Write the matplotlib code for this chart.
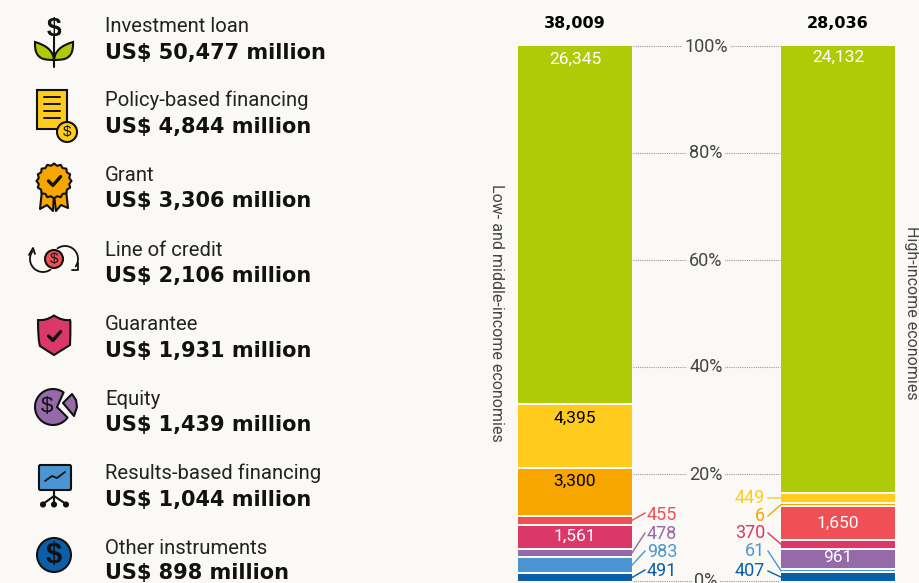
import numpy as np
import matplotlib
matplotlib.use("Agg")
import matplotlib.pyplot as plt
from matplotlib.patches import Rectangle, Circle, Polygon, PathPatch, FancyBboxPatch
from matplotlib.path import Path

instruments = ["Investment loan", "Policy-based financing", "Grant", "Line of credit",
               "Guarantee", "Equity", "Results-based financing", "Other instruments"]
totals_all = [50477, 4844, 3306, 2106, 1931, 1439, 1044, 898]
low_middle = [26345, 4395, 3300, 455, 1561, 478, 983, 491]
high_income = [24132, 449, 6, 1650, 370, 961, 61, 407]
low_total = 38009
high_total = 28036
pct_ticks = [0, 20, 40, 60, 80, 100]
colors = ["#AFCB08", "#FFCC1D", "#F7A600", "#EE5056", "#DB3769", "#9669A8", "#4B96D2", "#0A5FA8"]

BG = "#FAF9F5"
W, H = 919, 583
Y0, Y100 = 581, 46
PX = 100 / (Y0 - Y100)
NARROW = ["Roboto", "DejaVu Sans"]
BOLD = ["DejaVu Sans"]
ICON = ["Liberation Sans", "DejaVu Sans"]

fig = plt.figure(figsize=(W / 100, H / 100), dpi=100, facecolor=BG)
ax = fig.add_axes([0, 0, 1, 1], facecolor="none")
ax.set_xlim(0, W)
ax.set_ylim(-(H - Y0) * PX, 100 + Y100 * PX)
ax.axis("off")
ov = fig.add_axes([0, 0, 1, 1], facecolor="none")
ov.set_xlim(0, W)
ov.set_ylim(H, 0)
ov.axis("off")


def stack(vals, total, x, width=114, gap=2 * PX):
    mids = [0] * len(vals)
    bottom = 0
    for i in range(len(vals) - 1, -1, -1):
        h = vals[i] / total * 100
        h = max(h, 1 * PX)
        if i == 0:
            h = 100 - bottom
        ax.bar(x, h, bottom=bottom, width=width, color=colors[i], linewidth=0)
        mids[i] = Y0 - (bottom + h / 2) / PX
        bottom += h + gap
    return mids


mids_l = stack(low_middle, low_total, 575)
mids_r = stack(high_income, high_total, 838)

# percent axis
for p in pct_ticks:
    y = Y0 - p / PX
    ov.plot([633, 780], [y, y], color="#999999", lw=0.8, ls=(0, (1, 1)), zorder=1)
    ov.text(706, y + 0.5, f"{p}%", ha="center", va="center", fontsize=13, family=NARROW, color="#444444",
            bbox=dict(facecolor=BG, edgecolor="none", pad=2), zorder=2)

ov.text(575, 24, f"{low_total:,}", ha="center", va="center", fontsize=11.5, family=BOLD, weight="bold", color="black")
ov.text(838, 23, f"{high_total:,}", ha="center", va="center", fontsize=11.5, family=BOLD, weight="bold", color="black")

ov.text(497, 313, "Low- and middle-income economies", rotation=270, ha="center", va="center",
        fontsize=11.5, family=NARROW, color="#444444")
ov.text(911, 313, "High-income economies", rotation=270, ha="center", va="center",
        fontsize=11.5, family=NARROW, color="#444444")

# labels inside bars
inside = [(575, 59, 0, low_middle, "white"), (575, 418, 1, low_middle, "black"), (575, 481, 2, low_middle, "black"),
          (575, 536, 4, low_middle, "white"), (838, 57, 0, high_income, "white"),
          (838, 523, 3, high_income, "white"), (838, 558, 5, high_income, "white")]
for x, y, i, vals, c in inside:
    ov.text(x, y, f"{vals[i]:,}", ha="center", va="center", fontsize=12.5, family=NARROW, color=c)

# outside labels, left bar
for i, y in [(3, 515), (5, 534), (6, 552), (7, 571)]:
    ov.text(647, y, f"{low_middle[i]:,}", ha="left", va="center", fontsize=13, family=NARROW, color=colors[i])
    ov.plot([632, 645], [mids_l[i], y - 2 if i == 3 else y - 1], color=colors[i], lw=1)
# outside labels, right bar
for i, y in [(1, 498), (2, 516), (4, 533), (6, 551), (7, 571)]:
    ov.text(765, y, f"{high_income[i]:,}", ha="right", va="center", fontsize=13, family=NARROW, color=colors[i])
    ov.plot([768, 781], [y, mids_r[i]], color=colors[i], lw=1)

# legend text
reg_y = [32, 106, 181, 256, 330, 405, 479, 554]
bold_y = [58.5, 133, 207.5, 282, 357, 431, 506, 579.5]
for name, tot, ry, by in zip(instruments, totals_all, reg_y, bold_y):
    ov.text(105, ry, name, ha="left", va="baseline", fontsize=14.6, family=NARROW, color="#222222")
    ov.text(105, by, f"US$ {tot:,} million", ha="left", va="baseline", fontsize=15, family=BOLD,
            weight="bold", color="#111111")

# icons
LW = 1.5
K = "#111111"


def poly(pts, fc="none", lw=LW, z=5):
    ov.add_patch(Polygon(pts, closed=True, facecolor=fc, edgecolor=K, lw=lw, zorder=z, joinstyle="round"))


def circ(x, y, r, fc, lw=LW, z=5):
    ov.add_patch(Circle((x, y), r, facecolor=fc, edgecolor=K, lw=lw, zorder=z))


def dollar(x, y, size, bold=True):
    ov.text(x, y, "$", ha="center", va="center", fontsize=size, family=ICON,
            weight="bold" if bold else "normal", color=K, zorder=7)


def curve(verts, fc="none", lw=LW, z=5):
    codes = [Path.MOVETO] + [Path.CURVE3] * (len(verts) - 1)
    ov.add_patch(PathPatch(Path(verts, codes), facecolor=fc, edgecolor=K, lw=lw, zorder=z, capstyle="round"))


def line(xs, ys, lw=LW, z=6):
    ov.plot(xs, ys, color=K, lw=lw, zorder=z, solid_capstyle="round", solid_joinstyle="round")


def arc(cx, cy, r, t0, t1, lw=1.3, z=6):
    t = np.radians(np.linspace(t0, t1, 40))
    line(cx + r * np.cos(t), cy + r * np.sin(t), lw=lw, z=z)


def check(x, y, s=1.0):
    line([x - 5 * s, x - 1 * s, x + 6 * s], [y, y + 4 * s, y - 4 * s], lw=2.4)


# 1 plant
line([54, 54], [37, 67], lw=1.5)
dollar(54, 29, 19)
curve([(54, 60), (53, 47), (35, 42), (34, 58), (46, 59.5), (50, 60), (54, 60)], colors[0])
curve([(54, 60), (55, 47), (73, 42), (74, 58), (62, 59.5), (58, 60), (54, 60)], colors[0])

# 2 document
ov.add_patch(Rectangle((37, 90), 30, 39, facecolor=colors[1], edgecolor=K, lw=LW, zorder=5))
for y in (97, 104, 111, 118):
    line([44, 60], [y, y], lw=1.4)
circ(67, 132, 10, colors[1])
dollar(67, 132, 11, bold=False)

# 3 rosette
poly([(42, 190), (40, 209), (47, 205), (53, 211), (54, 195)], colors[2])
poly([(66, 190), (68, 208), (61, 205), (56, 211), (54, 195)], colors[2])
ang = np.linspace(0, 2 * np.pi, 33)[:-1]
rad = np.where(np.arange(32) % 2 == 0, 17.5, 15.5)
poly(np.c_[54 + rad * np.cos(ang), 181 + rad * np.sin(ang)], colors[2])
check(54, 181, 1.1)

# 4 line of credit
arc(43, 259, 13, 55, 215)
arc(65, 259, 13, 235, 395)
line([29, 33, 35], [255, 248, 254], lw=1.3)
line([72, 78, 78], [270, 270, 263], lw=1.3)
circ(54, 259, 9, colors[3])
dollar(54, 259, 11, bold=False)

# 5 shield
curve([(38, 320), (46, 321), (54, 315.5), (62, 321), (70, 320), (71, 320), (70, 345), (62, 350), (54, 355),
       (46, 350), (40, 346), (38, 340), (38, 320)], colors[4])
check(54, 336, 1.1)

# 6 equity
t = np.radians(np.linspace(36, 306, 60))
poly(np.r_[np.c_[53 + 18 * np.cos(t), 407 + 18 * np.sin(t)], [[57, 407]]], colors[5])
poly([(63, 403), (72, 394), (76, 400), (77, 407), (74, 416)], colors[5])
dollar(47, 407, 16, bold=False)

# 7 results board
ov.add_patch(FancyBboxPatch((39, 465), 32, 25, boxstyle="round,pad=0,rounding_size=1.5", facecolor=colors[6],
                            edgecolor=K, lw=LW, zorder=5))
line([45, 52, 57, 65], [481, 476, 478, 472], lw=1.3)
line([54, 54], [490, 504])
line([43, 54, 66], [504, 496, 504])
for x in (43, 54, 66):
    circ(x, 504.5, 2, K)

# 8 other
circ(54, 555, 17, colors[7])
dollar(54, 555, 21, bold=True)

fig.savefig("out.png", dpi=100, facecolor=BG)
